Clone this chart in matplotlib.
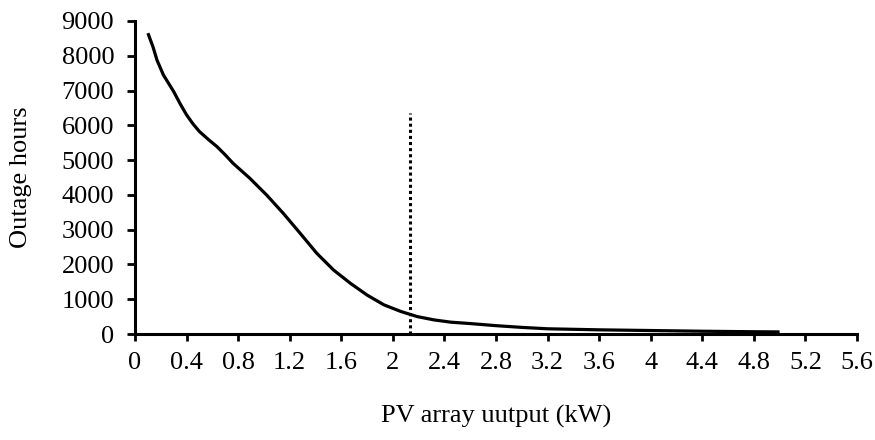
import matplotlib
matplotlib.use("Agg")
import matplotlib.pyplot as plt

pv_kw = [0.10, 0.14, 0.17, 0.22, 0.30, 0.35, 0.40, 0.45, 0.50, 0.57, 0.635, 0.70, 0.76,
         0.89, 1.02, 1.15, 1.28, 1.41, 1.54, 1.67, 1.80, 1.93, 2.06, 2.19, 2.32, 2.45,
         2.6, 2.8, 3.0, 3.2, 3.6, 4.0, 4.4, 4.8, 5.0]
outage_hours = [8650, 8250, 7880, 7450, 6970, 6620, 6300, 6040, 5820, 5590, 5390, 5150,
                4910, 4480, 4000, 3470, 2900, 2320, 1840, 1460, 1120, 840, 650, 500, 405,
                340, 300, 240, 190, 150, 120, 100, 80, 65, 60]
threshold_kw = 2.13
threshold_top = 6350

xticks = [0, 0.4, 0.8, 1.2, 1.6, 2.0, 2.4, 2.8, 3.2, 3.6, 4.0, 4.4, 4.8, 5.2, 5.6]
xtick_labels = ["0", "0.4", "0.8", "1.2", "1.6", "2", "2.4", "2.8", "3.2", "3.6",
                "4", "4.4", "4.8", "5.2", "5.6"]
yticks = [0, 1000, 2000, 3000, 4000, 5000, 6000, 7000, 8000, 9000]

plt.rcParams['font.family'] = ['Liberation Serif', 'DejaVu Serif']

fig = plt.figure(figsize=(8.75, 4.4), dpi=100)
ax = fig.add_axes([0.1543, 0.2409, 0.8251, 0.7114])

ax.plot(pv_kw, outage_hours, color='black', lw=2.3, solid_capstyle='butt',
        solid_joinstyle='round')
ax.plot([threshold_kw, threshold_kw], [0, threshold_top], color='black', lw=2.2,
        linestyle=(0, (1, 1)))

ax.set_xlim(0, 5.6)
ax.set_ylim(0, 9000)
ax.set_xticks(xticks)
ax.set_xticklabels(xtick_labels)
ax.set_yticks(yticks)

for s in ['top', 'right']:
    ax.spines[s].set_visible(False)
for s in ['left', 'bottom']:
    ax.spines[s].set_linewidth(2.2)
    ax.spines[s].set_color('black')

ax.tick_params(axis='both', direction='out', width=2.0, length=5, labelsize=19,
               colors='black')
ax.tick_params(axis='x', pad=8)
ax.tick_params(axis='y', length=6, pad=9)

ax.set_xlabel("PV array uutput (kW)", fontsize=19)
ax.set_ylabel("Outage hours", fontsize=19)
ax.xaxis.set_label_coords(0.5, -0.225)
ax.yaxis.set_label_coords(-0.143, 0.5)

fig.savefig("out.png", dpi=100)
